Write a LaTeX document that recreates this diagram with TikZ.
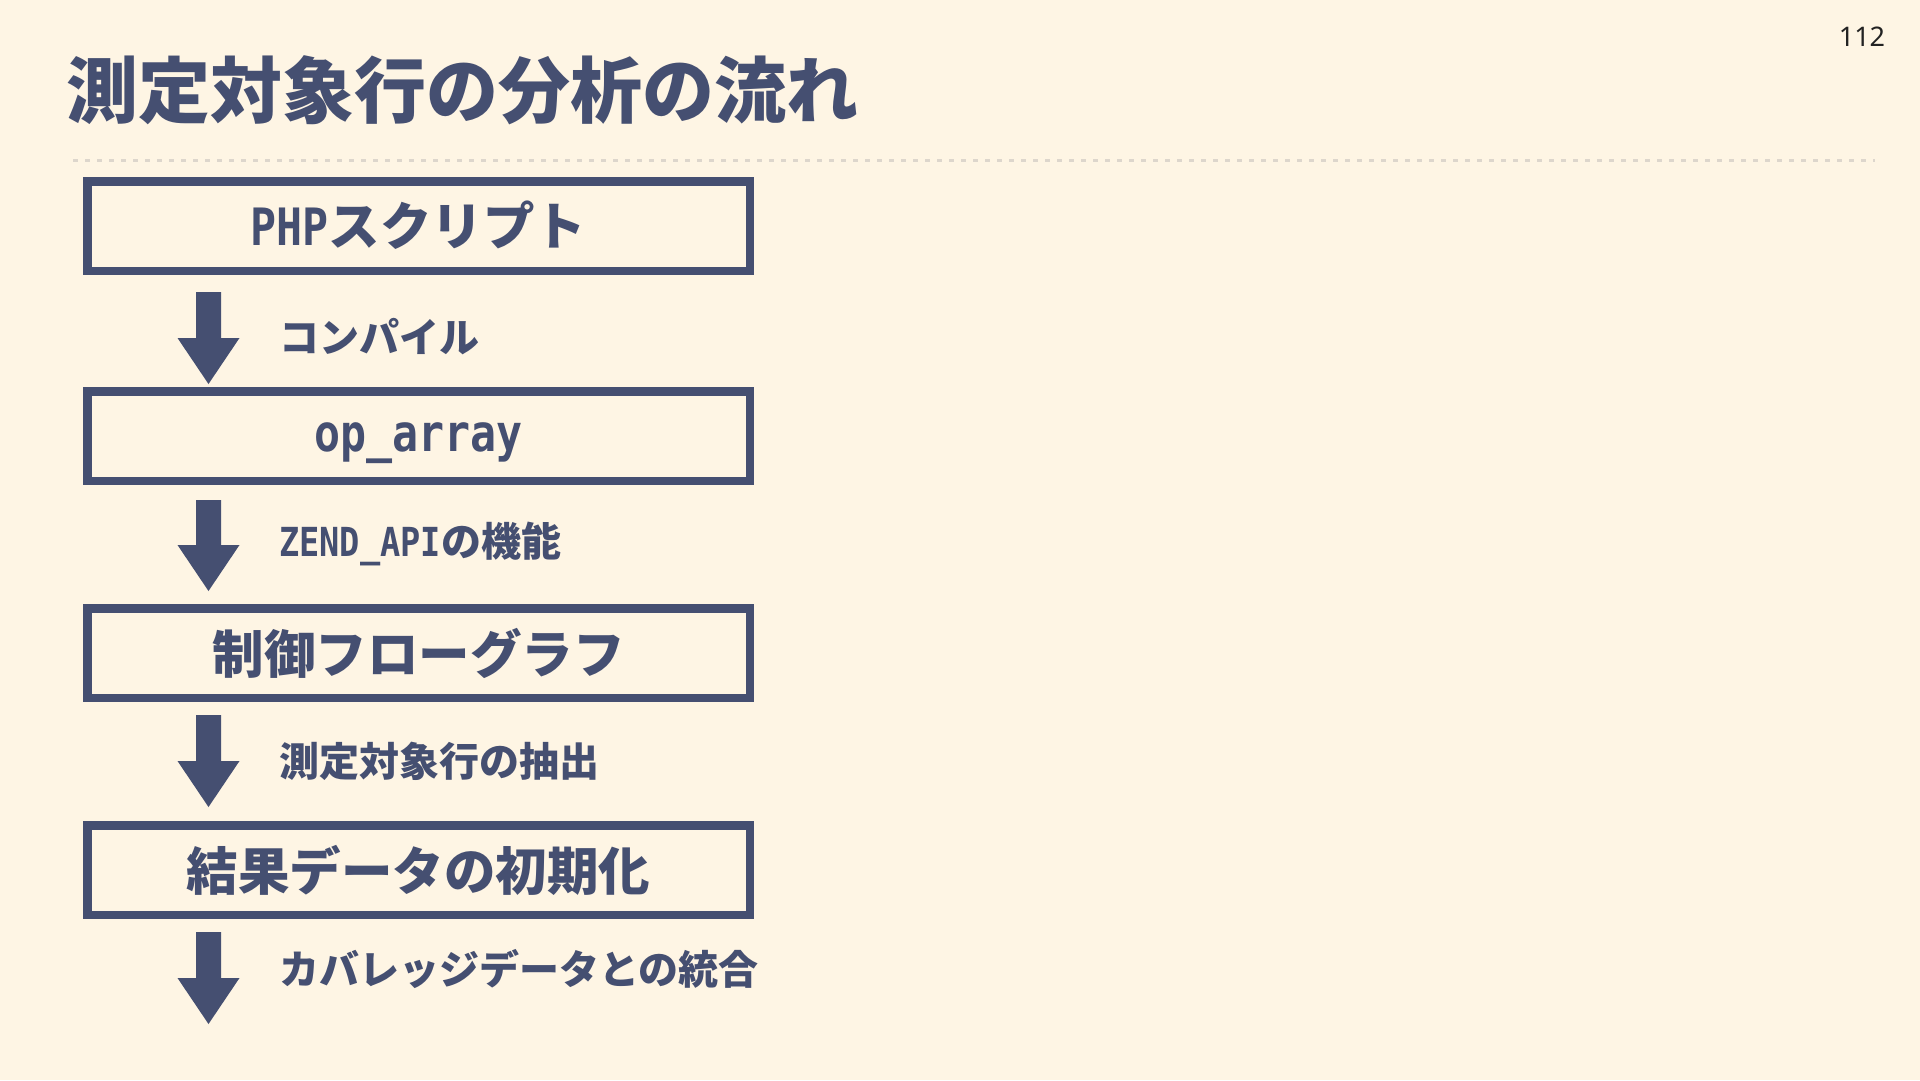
\documentclass[tikz,border=0pt]{standalone}
\usepackage{fontspec}
\setmainfont{Noto Sans CJK JP}
\newfontfamily\numfont{Noto Sans}
\newfontfamily\monocond{DejaVu Sans Mono}[FakeStretch=0.84]
\usetikzlibrary{calc}
\definecolor{bgc}{HTML}{FEF5E4}
\definecolor{navy}{HTML}{454F71}
\definecolor{dashc}{HTML}{DDD6CC}
\definecolor{numc}{HTML}{222222}
\newcommand{\lat}[1]{{\monocond\bfseries #1}}
\tikzset{
  stepbox/.style={draw=navy, line width=8.5pt, fill=none, minimum width=662.5pt, minimum height=89.5pt, inner sep=0pt, text=navy, font=\fontsize{51.5}{60}\selectfont\bfseries, execute at begin node={\vphantom{測}}},
  steplabel/.style={anchor=west, inner sep=0pt, text=navy, font=\fontsize{40}{48}\selectfont\bfseries, execute at begin node={\vphantom{測}}},
  flowfill/.style={fill=navy}
}
\newcommand{\flowarrow}[2]{%
  \fill[flowfill] ($(#1)+(-12.5,0)$) -- ($(#2)+(-12.5,-46)$) -- ($(#2)+(-31,-46)$) -- (#2) -- ($(#2)+(31,-46)$) -- ($(#2)+(12.5,-46)$) -- ($(#1)+(12.5,0)$) -- cycle;}
\begin{document}
\begin{tikzpicture}[x=1pt,y=-1pt]
\fill[bgc] (0,0) rectangle (1920,1080);
\useasboundingbox (0,0) rectangle (1920,1080);
% title
\node[anchor=west, inner sep=0pt, text=navy, font=\fontsize{72}{86}\selectfont\bfseries] (title) at (66,90) {測定対象行の分析の流れ};
\node[inner sep=0pt, text=numc, font=\numfont\fontsize{27}{32}\selectfont] (page) at (1862,37) {112};
\coordinate (dl) at (73,160);
\coordinate (dr) at (1875,160);
\draw[dashc, line width=3pt, dash pattern=on 5pt off 7pt] (dl) -- (dr);
% boxes
\node[stepbox] (b1) at (418.5,226) {\lat{PHP}スクリプト};
\node[stepbox] (b2) at (418.5,436) {\lat{op\_array}};
\node[stepbox] (b3) at (418.5,653) {制御フローグラフ};
\node[stepbox] (b4) at (418.5,870) {結果データの初期化};
% arrows
\coordinate (a1s) at ([xshift=-210pt,yshift=-17pt]b1.south);
\coordinate (a1t) at ([xshift=-210pt,yshift=3pt]b2.north);
\coordinate (a2s) at ([xshift=-210pt,yshift=-15pt]b2.south);
\coordinate (a2t) at ([xshift=-210pt,yshift=13pt]b3.north);
\coordinate (a3s) at ([xshift=-210pt,yshift=-13pt]b3.south);
\coordinate (a3t) at ([xshift=-210pt,yshift=14pt]b4.north);
\coordinate (a4s) at ([xshift=-210pt,yshift=-13pt]b4.south);
\coordinate (a4t) at (208.5,1024);
\flowarrow{a1s}{a1t}
\flowarrow{a2s}{a2t}
\flowarrow{a3s}{a3t}
\flowarrow{a4s}{a4t}
% labels
\node[steplabel] (l1) at (279,337) {コンパイル};
\node[steplabel] (l2) at (279,544) {\lat{ZEND\_API}の機能};
\node[steplabel] (l3) at (279,761) {測定対象行の抽出};
\node[steplabel] (l4) at (279,969) {カバレッジデータとの統合};
\end{tikzpicture}
\end{document}
